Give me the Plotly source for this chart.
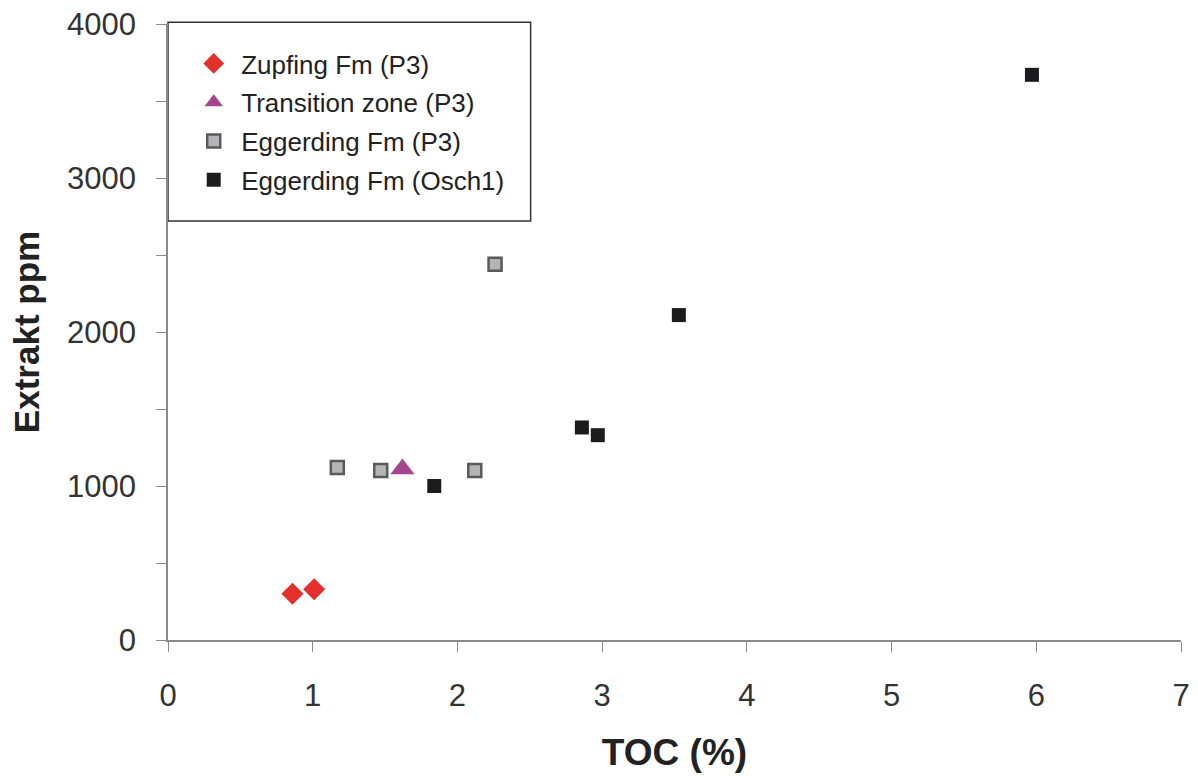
import plotly.graph_objects as go

# TOC (%) vs. extract yield (ppm) by unit
zupfing_toc = [0.86, 1.01]
zupfing_ext = [300, 330]

transition_toc = [1.62]
transition_ext = [1110]

egg_p3_toc = [1.17, 1.47, 2.12, 2.26]
egg_p3_ext = [1120, 1100, 1100, 2440]

egg_osch_toc = [1.84, 2.86, 2.97, 3.53, 5.97]
egg_osch_ext = [1000, 1380, 1330, 2110, 3670]

FONT = "Liberation Sans, Arial, sans-serif"

fig = go.Figure()
fig.add_trace(go.Scatter(
    x=zupfing_toc, y=zupfing_ext, mode="markers", name="Zupfing Fm (P3)",
    legendgroup="a",
    marker=dict(symbol="diamond", size=17, color="#e3302b", line=dict(width=0)),
))
fig.add_trace(go.Scatter(
    x=transition_toc, y=transition_ext, mode="markers", name="Transition zone (P3)",
    legendgroup="b",
    marker=dict(symbol="triangle-up", size=21, color="#a5448f", line=dict(width=0)),
))
fig.add_trace(go.Scatter(
    x=egg_p3_toc, y=egg_p3_ext, mode="markers", name="Eggerding Fm (P3)",
    legendgroup="c",
    marker=dict(symbol="square", size=13, color="#b4b4b8",
                line=dict(width=2.5, color="#5a5a5a")),
))
fig.add_trace(go.Scatter(
    x=egg_osch_toc, y=egg_osch_ext, mode="markers", name="Eggerding Fm (Osch1)",
    legendgroup="d",
    marker=dict(symbol="square", size=14, color="#1c1c1e", line=dict(width=0)),
))

axis_common = dict(
    showgrid=False, zeroline=False, showline=True, linecolor="#8a8a8a",
    linewidth=1.5, ticks="outside", ticklen=10, tickcolor="#8a8a8a",
    tickwidth=1.2, tickfont=dict(family=FONT, size=31, color="#333333"),
    automargin=False,
)

fig.update_xaxes(
    range=[0, 7], dtick=1, tick0=0, ticklabelstandoff=17,
    title=dict(text="<b>TOC (%)</b>", font=dict(family=FONT, size=37, color="#222222"),
               standoff=27),
    **axis_common,
)
fig.update_yaxes(
    range=[0, 4000], dtick=1000, tick0=0, ticklabelstandoff=14,
    minor=dict(dtick=500, ticks="outside", ticklen=10, tickcolor="#8a8a8a"),
    title=dict(text="<b>Extrakt ppm</b>", font=dict(family=FONT, size=35, color="#222222"),
               standoff=17),
    **axis_common,
)

fig.update_layout(
    width=1198, height=776,
    margin=dict(l=168, r=17, t=24, b=136),
    paper_bgcolor="white", plot_bgcolor="white",
    showlegend=True,
    legend=dict(
        x=0.018, y=0.974, xanchor="left", yanchor="top",
        bgcolor="rgba(0,0,0,0)", borderwidth=0,
        font=dict(family=FONT, size=26, color="#222222"),
        tracegroupgap=2, itemsizing="trace", itemwidth=45,
    ),
    shapes=[dict(
        type="rect", xref="paper", yref="paper",
        x0=0.0, x1=0.358, y0=0.68, y1=1.003,
        line=dict(color="#333333", width=1.5), fillcolor="rgba(0,0,0,0)",
        layer="below",
    )],
)

fig.write_html("out.html")
